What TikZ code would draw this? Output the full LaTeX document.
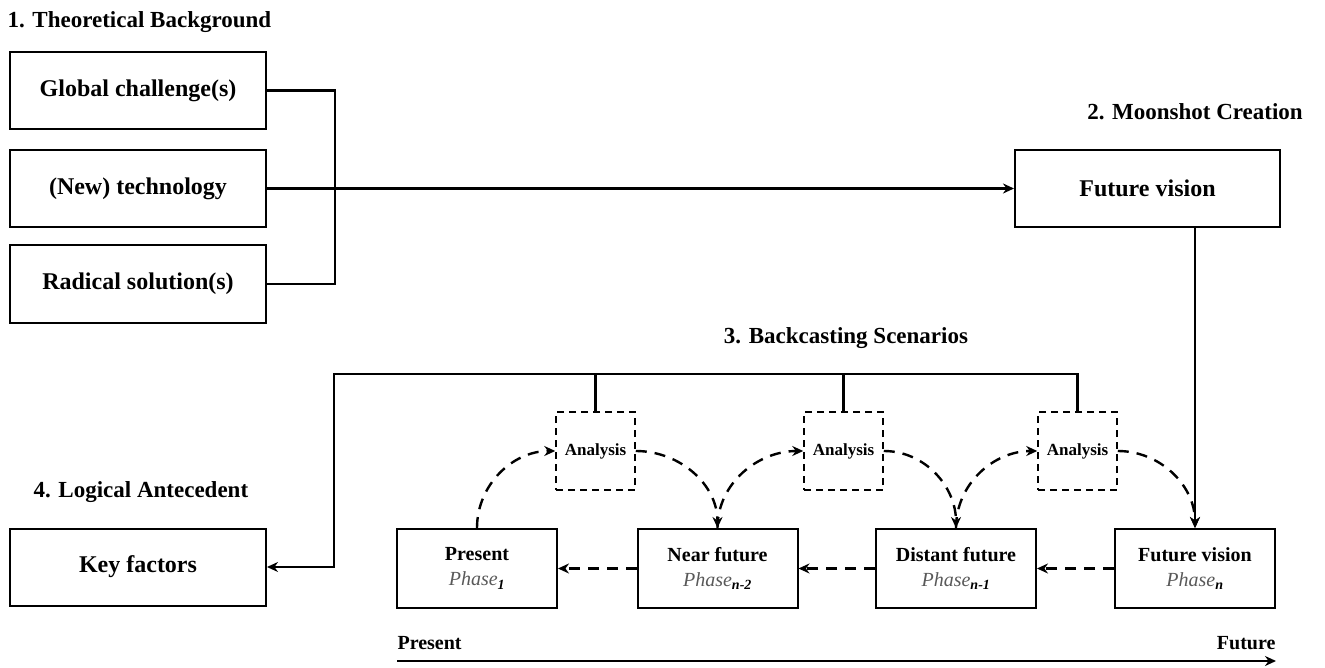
\documentclass[tikz,border=0pt]{standalone}
\usepackage{fontspec}
\setmainfont{Liberation Serif}
\usetikzlibrary{arrows.meta, positioning, calc}

\begin{document}
\begin{tikzpicture}[x=1pt, y=-1pt,
    box/.style={draw, line width=2pt, minimum width=256pt, minimum height=77pt, font=\fontsize{24}{28}\selectfont\bfseries},
    phasebox/.style={draw, line width=2pt, minimum width=160pt, minimum height=79pt, align=center, font=\fontsize{20}{24}\selectfont\bfseries},
    anbox/.style={draw, line width=1.5pt, dash pattern=on 7pt off 5pt, minimum width=79pt, minimum height=78pt, inner sep=0pt, font=\fontsize{17}{20}\selectfont\bfseries},
    title/.style={font=\fontsize{23}{27}\selectfont\bfseries},
    line/.style={line width=2.4pt},
    link/.style={line, -{Stealth[length=11pt, width=10pt]}},
    dlink/.style={link, dash pattern=on 11pt off 8pt},
]

%my colors
\definecolor{phasegray}{rgb}{0.35, 0.35, 0.35}

    % page frame
    \useasboundingbox (0,0) rectangle (1325,668);

    % 1. Theoretical background
    \node[title, anchor=west] (t1) at (4,22) {1. Theoretical Background};
    \node[box] (glob) at (138,90.5) {Global challenge(s)};
    \node[box] (tech) at (138,188.5) {(New) technology};
    \node[box] (rad) at (138,284) {Radical solution(s)};

    % 2. Moonshot creation
    \node[title] (t2) at (1195,112) {2. Moonshot Creation};
    \node[box, minimum width=265pt] (fv) at (1147.5,188.5) {Future vision};

    % 3. Backcasting scenarios
    \node[title] (t3) at (846,338) {3. Backcasting Scenarios};
    \node[anbox] (a1) at (595.5,451) {Analysis};
    \node[anbox] (a2) at (843.5,451) {Analysis};
    \node[anbox] (a3) at (1077.5,451) {Analysis};

    \node[phasebox] (pr) at (477,568.5) {Present\\[1pt]{\mdseries\itshape\color{phasegray} Phase}\textsubscript{\itshape 1}};
    \node[phasebox] (nf) at (717.5,568.5) {Near future\\[1pt]{\mdseries\itshape\color{phasegray} Phase}\textsubscript{\itshape n-2}};
    \node[phasebox] (df) at (956,568.5) {Distant future\\[1pt]{\mdseries\itshape\color{phasegray} Phase}\textsubscript{\itshape n-1}};
    \node[phasebox] (pn) at (1195,568.5) {Future vision\\[1pt]{\mdseries\itshape\color{phasegray} Phase}\textsubscript{\itshape n}};

    % 4. Logical antecedent
    \node[title, anchor=west] (t4) at (30,492) {4. Logical Antecedent};
    \node[box] (key) at (138,567) {Key factors};

    % background boxes joined, technology to vision
    \draw[line] (glob.east) -- ++(68,0) |- (rad.east);
    \draw[link] (tech.east) -- (fv.west);
    \draw[link] (fv.south -| pn.north) -- (pn.north);

    % bus over the analysis boxes
    \coordinate (busL) at (334,374);
    \draw[link] (a3.north) |- (busL) |- (key.east);
    \draw[line] (a1.north) -- (a1.north |- busL);
    \draw[line] (a2.north) -- (a2.north |- busL);

    % phases back in time
    \draw[dlink] (pn.west) -- (df.east);
    \draw[dlink] (df.west) -- (nf.east);
    \draw[dlink] (nf.west) -- (pr.east);

    % analysis loops
    \draw[dlink] (pr.north) to[out=90, in=180] (a1.west);
    \draw[dlink] (a1.east) to[out=0, in=90] (nf.north);
    \draw[dlink] (nf.north) to[out=90, in=180] (a2.west);
    \draw[dlink] (a2.east) to[out=0, in=90] (df.north);
    \draw[dlink] (df.north) to[out=90, in=180] (a3.west);
    \draw[dlink] (a3.east) to[out=0, in=90] (pn.north);

    % time line
    \node[title, font=\fontsize{20}{24}\selectfont\bfseries, anchor=west] (tpres) at (394,643) {Present};
    \node[title, font=\fontsize{20}{24}\selectfont\bfseries, anchor=east] (tfut) at (1279,643) {Future};
    \coordinate (tlL) at (397,661);
    \coordinate (tlR) at (1276,661);
    \draw[link] (tlL) -- (tlR);

\end{tikzpicture}
\end{document}
